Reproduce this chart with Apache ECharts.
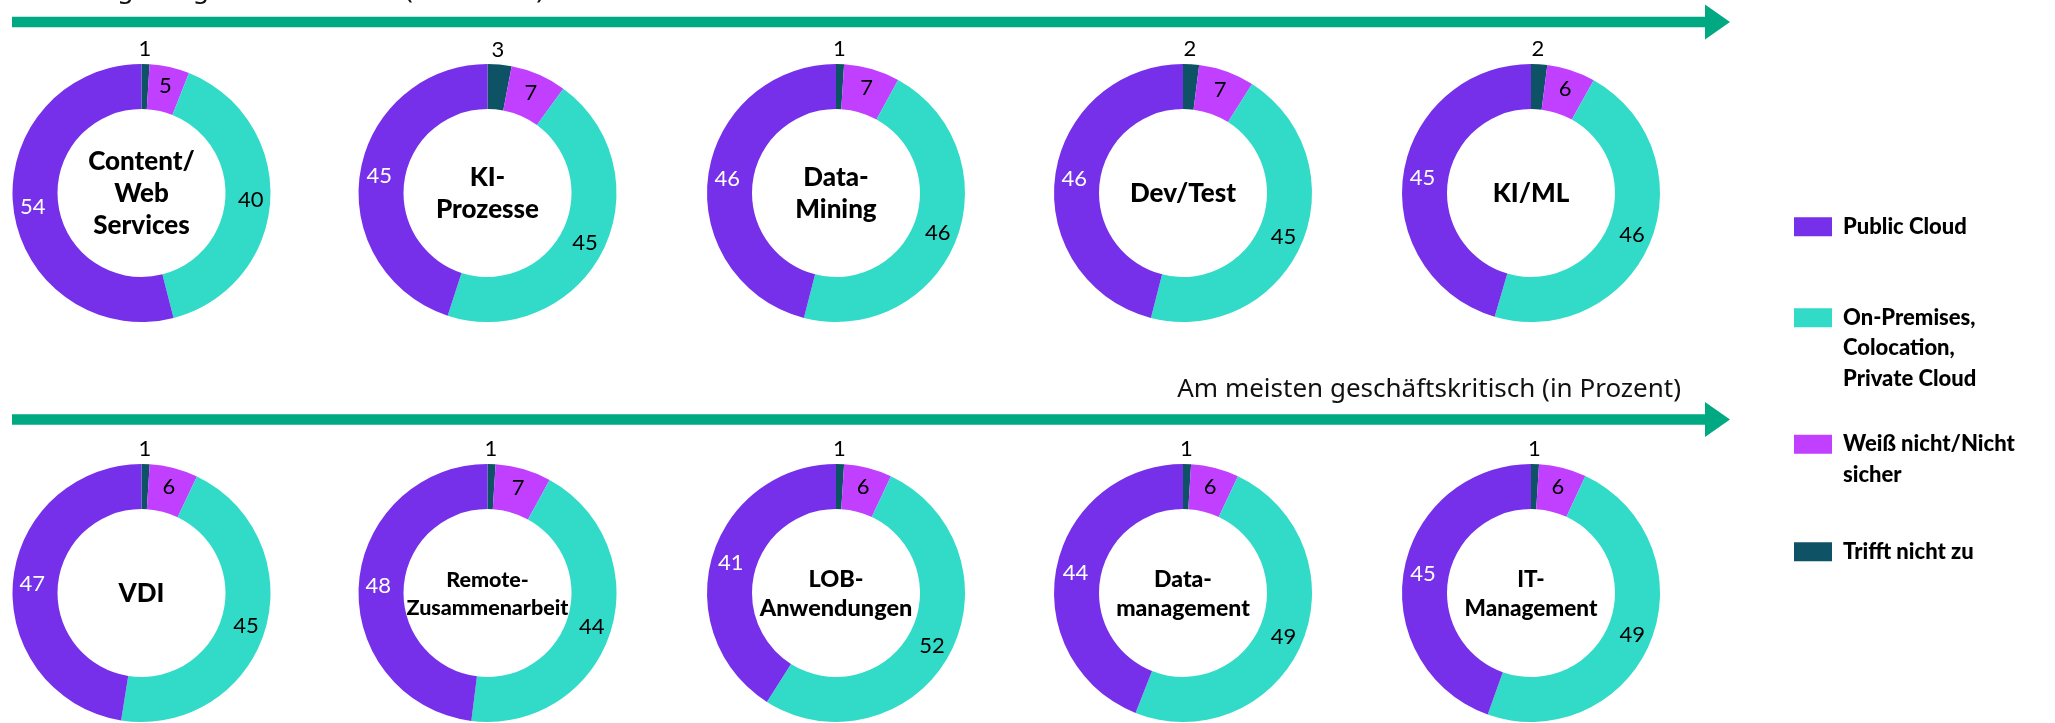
<!DOCTYPE html>
<html>
<head>
<meta charset="utf-8">
<script src="https://cdn.jsdelivr.net/npm/echarts@6/dist/echarts.min.js"></script>
<style>
  html, body { margin: 0; padding: 0; background: #fff; }
  #chart { width: 2055px; height: 723px; }
</style>
</head>
<body>
<div id="chart"></div>
<script>
// workloads, one donut each (top row: least critical, bottom row: most critical)
const categories = ['Content/\nWeb\nServices', 'KI-\nProzesse', 'Data-\nMining', 'Dev/Test', 'KI/ML',
  'VDI', 'Remote-\nZusammenarbeit', 'LOB-\nAnwendungen', 'Data-\nmanagement', 'IT-\nManagement'];

// segment names, in drawing order (clockwise from 12 o'clock)
const segments = ['Trifft nicht zu', 'Weiß nicht/Nicht sicher', 'On-Premises, Colocation, Private Cloud', 'Public Cloud'];

// values in percent per workload
const trifftNicht = [1, 3, 1, 2, 2, 1, 1, 1, 1, 1];
const weissNicht  = [5, 7, 7, 7, 6, 6, 7, 6, 6, 6];
const onPremises  = [40, 45, 46, 45, 46, 45, 44, 52, 49, 49];
const publicCloud = [54, 45, 46, 46, 45, 47, 48, 41, 44, 45];

const arrowTexts = ['Am wenigsten geschäftskritisch (in Prozent)', 'Am meisten geschäftskritisch (in Prozent)'];

// ---- layout / style ----
const colors = ['#0E5265', '#C140FF', '#32DAC8', '#7630EA'];
const labelColors = ['#000', '#000', '#000', '#fff'];
const colX = [141.5, 487.5, 836, 1183, 1531];
const rowY = [193, 593];
const titleSize = [26, 26, 26, 26, 26, 26, 21.5, 23.5, 23, 22.5];
const legendNames = {
  'Public Cloud': 'Public Cloud',
  'On-Premises, Colocation, Private Cloud': 'On-Premises,\nColocation,\nPrivate Cloud',
  'Weiß nicht/Nicht sicher': 'Weiß nicht/Nicht\nsicher',
  'Trifft nicht zu': 'Trifft nicht zu'
};
const legendIconY = { 'Public Cloud': 231, 'On-Premises, Colocation, Private Cloud': 322, 'Weiß nicht/Nicht sicher': 448.5, 'Trifft nicht zu': 556 };
const legendLH = 30.5;

const series = categories.map(function (cat, i) {
  const vals = [trifftNicht[i], weissNicht[i], onPremises[i], publicCloud[i]];
  return {
    type: 'pie',
    name: cat,
    center: [colX[i % 5], rowY[Math.floor(i / 5)]],
    radius: [84, 129],
    startAngle: 90,
    clockwise: true,
    silent: true,
    emphasis: { disabled: true },
    itemStyle: { borderWidth: 0 },
    label: {
      show: true,
      position: 'inside',
      formatter: '{c}',
      fontFamily: 'Lato',
      fontSize: 22,
      fontWeight: 'normal'
    },
    labelLine: { show: false },
    data: vals.map(function (v, k) {
      const d = { name: segments[k], value: v, label: { color: labelColors[k] } };
      if (k === 0) {
        // tiny slice: number sits just outside the ring, above it
        d.label.formatter = '{c}\n \n \n ';
        d.label.lineHeight = 23;
      }
      return d;
    })
  };
});

const legends = ['Public Cloud', 'On-Premises, Colocation, Private Cloud', 'Weiß nicht/Nicht sicher', 'Trifft nicht zu'].map(function (n) {
  const lines = legendNames[n].split('\n').length;
  const h = (2 * lines - 1) * legendLH;
  return {
    data: [n],
    orient: 'vertical',
    left: 1794,
    top: legendIconY[n] - h / 2,
    padding: 0,
    icon: 'rect',
    itemWidth: 38,
    itemHeight: 19,
    selectedMode: false,
    formatter: function (name) {
      const ls = legendNames[name].split('\n');
      const out = [];
      for (let j = 1; j < ls.length; j++) out.push('{t| }');
      ls.forEach(function (l) { out.push('{t|' + l + '}'); });
      return out.join('\n');
    },
    textStyle: {
      rich: {
        t: {
          fontFamily: 'Lato',
          fontWeight: 900,
          fontSize: 22,
          color: '#000',
          lineHeight: legendLH,
          padding: [0, 0, 0, 6]
        }
      }
    }
  };
});

const graphics = [];
[22, 419.5].forEach(function (y) {
  graphics.push({
    type: 'rect', shape: { x: 12, y: y - 5.2, width: 1695, height: 10.4 },
    style: { fill: '#01A982' }, silent: true
  });
  graphics.push({
    type: 'polygon', shape: { points: [[1705, y - 17.5], [1730, y], [1705, y + 17.5]] },
    style: { fill: '#01A982' }, silent: true
  });
});
graphics.push({
  type: 'text', x: 12, y: 4,
  style: { text: arrowTexts[0], font: '26px "Noto Sans"', fill: '#111', align: 'left', verticalAlign: 'bottom' }
});
graphics.push({
  type: 'text', x: 1681, y: 403,
  style: { text: arrowTexts[1], font: '26px "Noto Sans"', fill: '#111', align: 'right', verticalAlign: 'bottom' }
});
categories.forEach(function (cat, i) {
  graphics.push({
    type: 'text',
    x: colX[i % 5], y: rowY[Math.floor(i / 5)] + 1,
    style: {
      text: cat,
      font: '900 ' + titleSize[i] + 'px Lato',
      lineHeight: titleSize[i] + 6,
      fill: '#000',
      align: 'center',
      verticalAlign: 'middle'
    },
    silent: true
  });
});

const option = {
  backgroundColor: '#fff',
  animation: false,
  color: colors,
  legend: legends,
  graphic: graphics,
  series: series
};

const chart = echarts.init(document.getElementById('chart'));
chart.setOption(option);
</script>
</body>
</html>
